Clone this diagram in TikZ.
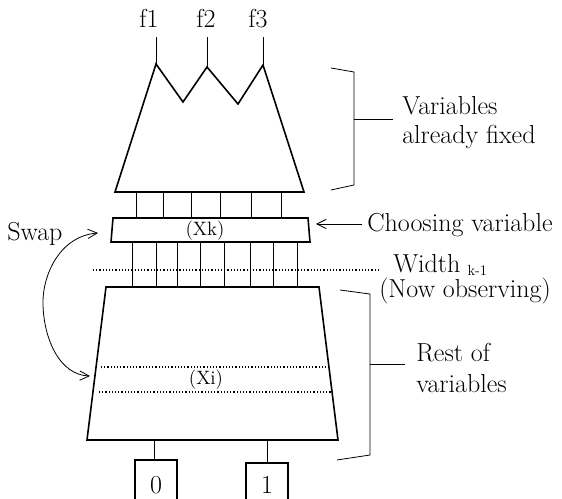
\documentclass[tikz,border=0pt]{standalone}
\usetikzlibrary{arrows.meta}
\begin{document}
\begin{tikzpicture}[x=0.75pt,y=-0.75pt,
  block/.style={line width=1.2pt, line join=miter},
  wire/.style={line width=0.6pt},
  dotline/.style={line width=1pt, dash pattern=on 0.9pt off 1.5pt},
  lbl/.style={font=\fontsize{19.5}{22}\selectfont, anchor=base west, inner sep=0pt},
  clbl/.style={font=\fontsize{19.5}{22}\selectfont, anchor=base, inner sep=0pt},
  small/.style={font=\fontsize{14.5}{16}\selectfont, inner sep=0pt},
  arr/.style={-{Straight Barb[length=7pt,width=7pt]}, line width=0.6pt}]
\useasboundingbox (0,0) rectangle (562,499);
% top block
\draw[block] (115,192) -- (156,64) coordinate (p1) -- (183,102) -- (207,67) coordinate (p2)
  -- (238,104) -- (263,65) coordinate (p3) -- (304,192) -- cycle;
\node[clbl] (f1) at (149,28) {f1};
\node[clbl] (f2) at (206,28) {f2};
\node[clbl] (f3) at (258,28) {f3};
\draw[wire] (p1) -- (156,37);
\draw[wire] (p2) -- (207,37);
\draw[wire] (p3) -- (263,37);
% connections top block -> Xk box
\foreach \x in {136,163,191,220,251,281} \draw[wire] (\x,192) -- (\x,218);
% Xk box
\draw[block] (113,218) -- (308,218) -- (310,242) -- (111,242) -- cycle;
\node[small] (xk) at (205,231) {(Xk)};
% connections Xk box -> lower block
\foreach \x in {132,156,177,200,224,250,273,297} \draw[wire] (\x,242) -- (\x,287);
\draw[dotline] (93,270) -- (378,270);
% lower block
\draw[block] (106,287) -- (319,287) -- (338,440) -- (87,440) -- cycle;
\draw[dotline] (101,367) -- (327,367);
\draw[dotline] (99,392) -- (331,392);
\node[small] (xi) at (206,380) {(Xi)};
% terminals
\draw[wire] (154,440) -- (154,460);
\draw[wire] (267,440) -- (267,463);
\draw[block, line width=0.9pt] (135,499) -- (135,460) -- (177,460) -- (177,499);
\draw[block, line width=0.9pt] (246,499) -- (246,463) -- (288,463) -- (288,499);
\node[clbl] (t0) at (156,494) {0};
\node[clbl] (t1) at (267,494) {1};
% bracket 1
\draw[wire] (331,68) -- (354,72) -- (354,185) -- (331,190);
\draw[wire] (354,119) -- (393,119);
\node[lbl] (vaf1) at (402,115) {Variables};
\node[lbl] (vaf2) at (402,144) {already fixed};
% choosing variable
\node[lbl] (cv) at (367,232) {Choosing variable};
\coordinate (cvs) at (362,224);
\coordinate (cve) at (316,224);
\draw[arr] (cvs) -- (cve);
% width
\node[lbl] (w) at (393,273) {Width};
\node[anchor=base west, inner sep=0pt, font=\fontsize{11}{12}\selectfont] (wk) at (w.base east) [xshift=5pt, yshift=-2pt] {k-1};
\node[lbl] (now) at (379,298) {(Now observing)};
% bracket 2
\draw[wire] (340,290) -- (370,294) -- (370,455) -- (337,460);
\draw[wire] (370,364) -- (405,364);
\node[lbl] (r1) at (416,362) {Rest of};
\node[lbl] (r2) at (416,393) {variables};
% swap
\node[lbl] (sw) at (7,241) {Swap};
\coordinate (sa) at (98,233);
\coordinate (sb) at (90,376);
\draw[arr, {Straight Barb[length=7pt,width=7pt]}-{Straight Barb[length=7pt,width=7pt]}]
  (sa) .. controls (60,236) and (42,275) .. (43,305) .. controls (44,340) and (60,375) .. (sb);
\end{tikzpicture}
\end{document}
